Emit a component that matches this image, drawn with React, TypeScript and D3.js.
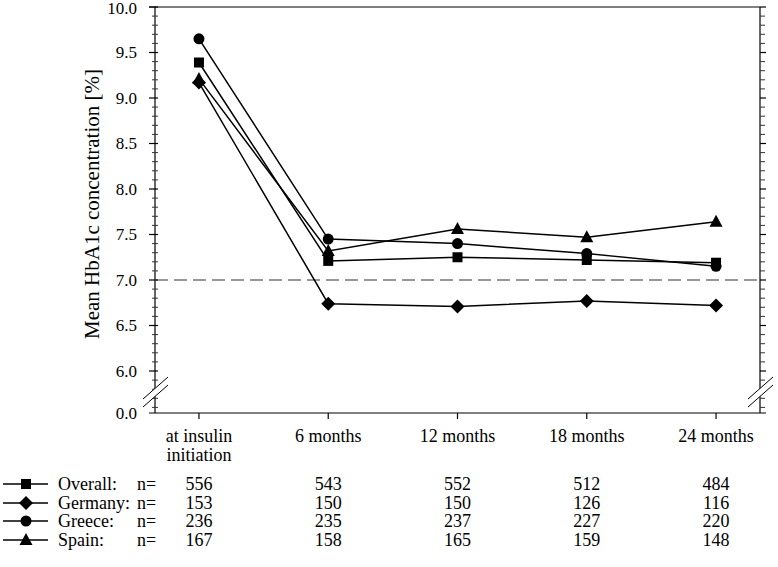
import React, { useEffect, useRef } from 'react';
import * as d3 from 'd3';

const categories = ['at insulin initiation', '6 months', '12 months', '18 months', '24 months'];
const categoryLines = [['at insulin', 'initiation'], ['6 months'], ['12 months'], ['18 months'], ['24 months']];

const seriesNames = ['Overall', 'Germany', 'Greece', 'Spain'];
const seriesSymbols = ['square', 'diamond', 'circle', 'triangle'];

const overallValues = [9.39, 7.21, 7.25, 7.22, 7.19];
const germanyValues = [9.17, 6.74, 6.71, 6.77, 6.72];
const greeceValues = [9.65, 7.45, 7.40, 7.29, 7.15];
const spainValues = [9.21, 7.32, 7.56, 7.47, 7.64];

const overallN = [556, 543, 552, 512, 484];
const germanyN = [153, 150, 150, 126, 116];
const greeceN = [236, 235, 237, 227, 220];
const spainN = [167, 158, 165, 159, 148];

const majorTicks = [6.0, 6.5, 7.0, 7.5, 8.0, 8.5, 9.0, 9.5, 10.0];
const targetLine = 7.0;

const FONT = '"Liberation Serif", "Times New Roman", serif';

const App = () => {
  const ref = useRef<SVGSVGElement | null>(null);

  useEffect(() => {
    const svg = d3.select(ref.current);
    svg.selectAll('*').remove();

    const left = 155, right = 760, top = 7, bottom = 413;
    const breakTop = 371;

    const x = d3.scalePoint().domain(categories).range([left, right]).padding(0.34);
    const y = d3.scaleLinear().domain([6, 10]).range([breakTop, top]);

    const values = [overallValues, germanyValues, greeceValues, spainValues];
    const counts = [overallN, germanyN, greeceN, spainN];

    const g = svg.append('g');

    // frame
    g.append('line').attr('x1', left - 6).attr('x2', right).attr('y1', top).attr('y2', top)
      .attr('stroke', '#000').attr('stroke-width', 1.2);
    g.append('line').attr('x1', left).attr('x2', left).attr('y1', top).attr('y2', bottom)
      .attr('stroke', '#000').attr('stroke-width', 1.2);
    g.append('line').attr('x1', right).attr('x2', right).attr('y1', top).attr('y2', bottom)
      .attr('stroke', '#000').attr('stroke-width', 1.2);
    g.append('line').attr('x1', left - 6).attr('x2', right + 6).attr('y1', bottom).attr('y2', bottom)
      .attr('stroke', '#000').attr('stroke-width', 1.2);

    // minor ticks
    const minor = d3.range(56, 101).map(d => d / 10).filter(d => Math.round(d * 10) % 5 !== 0);
    minor.forEach(v => {
      g.append('line').attr('x1', left - 3).attr('x2', left + 3).attr('y1', y(v)).attr('y2', y(v))
        .attr('stroke', '#333').attr('stroke-width', 1);
      g.append('line').attr('x1', right).attr('x2', right + 5).attr('y1', y(v)).attr('y2', y(v))
        .attr('stroke', '#333').attr('stroke-width', 1);
    });

    // major ticks + labels
    majorTicks.forEach(v => {
      g.append('line').attr('x1', left - 6).attr('x2', left + 3).attr('y1', y(v)).attr('y2', y(v))
        .attr('stroke', '#000').attr('stroke-width', 1.2);
      g.append('line').attr('x1', right).attr('x2', right + 6).attr('y1', y(v)).attr('y2', y(v))
        .attr('stroke', '#000').attr('stroke-width', 1.2);
      g.append('text').attr('x', left - 18).attr('y', y(v)).attr('dy', v === 10 ? '0.42em' : '0.35em')
        .attr('text-anchor', 'end').style('font-family', FONT).style('font-size', '17px')
        .text(d3.format('.1f')(v));
    });
    g.append('text').attr('x', left - 18).attr('y', bottom).attr('dy', '0.35em')
      .attr('text-anchor', 'end').style('font-family', FONT).style('font-size', '17px').text('0.0');

    // axis break marks
    [left, right].forEach(ax => {
      const x0 = ax - 12, x1 = ax + 13;
      g.append('polygon')
        .attr('points', `${x0},${bottom - 14} ${x1},${bottom - 36} ${x1},${bottom - 28} ${x0},${bottom - 6}`)
        .attr('fill', '#fff');
      g.append('line').attr('x1', x0).attr('y1', bottom - 14).attr('x2', x1).attr('y2', bottom - 36)
        .attr('stroke', '#000').attr('stroke-width', 1);
      g.append('line').attr('x1', x0).attr('y1', bottom - 6).attr('x2', x1).attr('y2', bottom - 28)
        .attr('stroke', '#000').attr('stroke-width', 1);
    });

    // bottom ticks + labels
    categories.forEach((c, i) => {
      const cx = x(c)!;
      g.append('line').attr('x1', cx).attr('x2', cx).attr('y1', bottom).attr('y2', bottom + 6)
        .attr('stroke', '#000').attr('stroke-width', 1.2);
      categoryLines[i].forEach((t, j) => {
        g.append('text').attr('x', cx).attr('y', bottom + 29 + j * 19)
          .attr('text-anchor', 'middle').style('font-family', FONT).style('font-size', '18px').text(t);
      });
    });

    // y label
    g.append('text')
      .attr('transform', `translate(99,204) rotate(-90)`)
      .attr('text-anchor', 'middle')
      .style('font-family', FONT).style('font-size', '21px')
      .text('Mean HbA1c concentration [%]');

    // target line
    g.append('line').attr('x1', left).attr('x2', right).attr('y1', y(targetLine)).attr('y2', y(targetLine))
      .attr('stroke', '#333').attr('stroke-width', 1.2).attr('stroke-dasharray', '13,6');

    const drawSymbol = (sel: any, kind: string, cx: number, cy: number) => {
      if (kind === 'square') {
        sel.append('rect').attr('x', cx - 5).attr('y', cy - 5).attr('width', 10).attr('height', 10).attr('fill', '#000');
      } else if (kind === 'circle') {
        sel.append('circle').attr('cx', cx).attr('cy', cy).attr('r', 5.5).attr('fill', '#000');
      } else if (kind === 'diamond') {
        sel.append('path').attr('d', `M${cx},${cy - 7} L${cx + 7},${cy} L${cx},${cy + 7} L${cx - 7},${cy} Z`).attr('fill', '#000');
      } else {
        sel.append('path').attr('d', `M${cx},${cy - 7} L${cx + 6.5},${cy + 5} L${cx - 6.5},${cy + 5} Z`).attr('fill', '#000');
      }
    };

    const line = d3.line<number>().x((_, i) => x(categories[i])!).y(d => y(d));

    values.forEach(vals => {
      g.append('path').datum(vals).attr('d', line).attr('fill', 'none')
        .attr('stroke', '#000').attr('stroke-width', 1.5);
    });
    values.forEach((vals, s) => {
      vals.forEach((v, i) => drawSymbol(g, seriesSymbols[s], x(categories[i])!, y(v)));
    });

    // legend table
    const rowY = [484, 503, 521, 540];
    seriesNames.forEach((name, s) => {
      const ry = rowY[s];
      g.append('line').attr('x1', 3).attr('x2', 48).attr('y1', ry).attr('y2', ry)
        .attr('stroke', '#000').attr('stroke-width', 1.5);
      drawSymbol(g, seriesSymbols[s], 26, ry);
      g.append('text').attr('x', 58).attr('y', ry).attr('dy', '0.35em')
        .style('font-family', FONT).style('font-size', '18px').text(name + ':');
      g.append('text').attr('x', 137).attr('y', ry).attr('dy', '0.35em')
        .style('font-family', FONT).style('font-size', '18px').text('n=');
      counts[s].forEach((n, i) => {
        g.append('text').attr('x', x(categories[i])!).attr('y', ry).attr('dy', '0.35em')
          .attr('text-anchor', 'middle').style('font-family', FONT).style('font-size', '18px').text(n);
      });
    });
  }, []);

  return (
    <svg ref={ref} width={778} height={567}
      style={{ position: 'absolute', left: 0, top: 0, background: '#fff' }} />
  );
};

export default App;
